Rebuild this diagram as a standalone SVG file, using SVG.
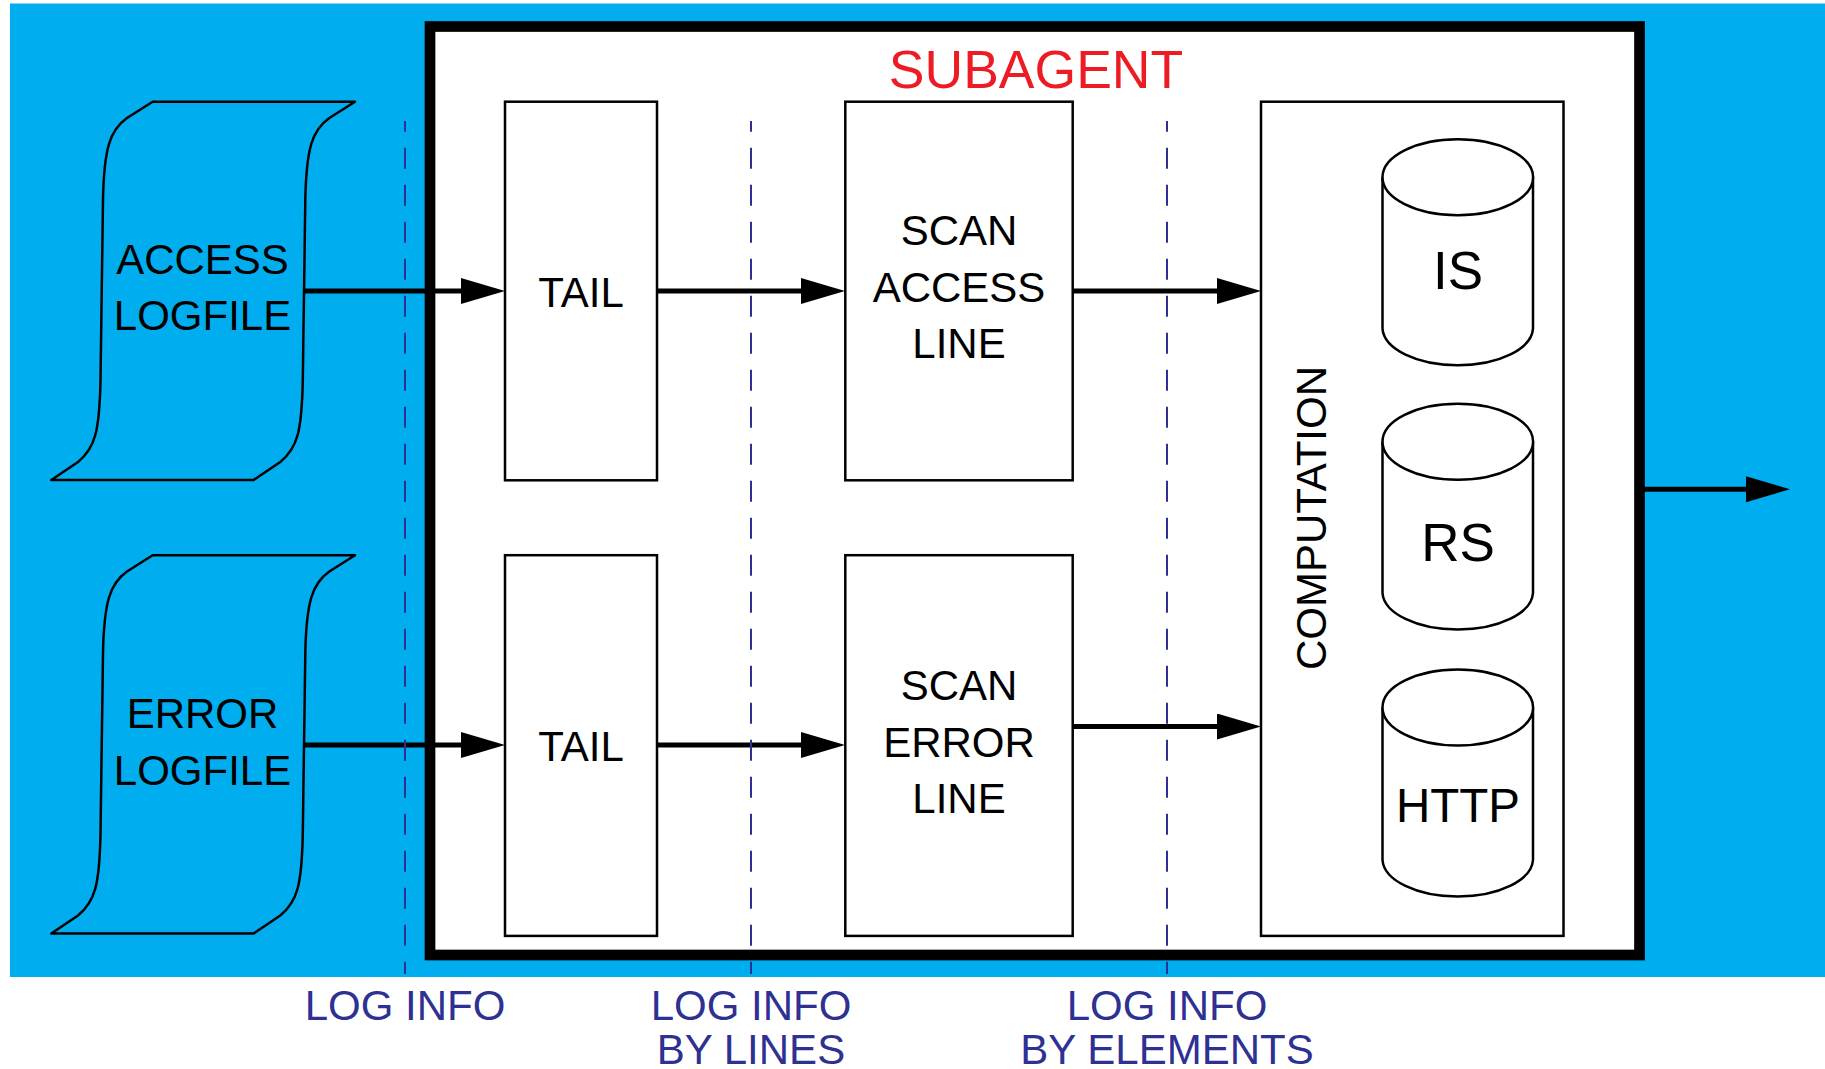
<svg xmlns="http://www.w3.org/2000/svg" width="1825" height="1069" viewBox="0 0 1825 1069">
<defs>
<style>
.t{font-family:"Liberation Sans",Arial,sans-serif;font-size:42px;fill:#000;text-anchor:middle}
.big{font-size:53px}
.lbl{font-family:"Liberation Sans",Arial,sans-serif;font-size:42px;fill:#2E3192;text-anchor:middle}
.box{fill:#fff;stroke:#000;stroke-width:2.5}
.file{fill:#00AEEF;stroke:#000;stroke-width:2.5;stroke-linejoin:round}
.cyl{fill:#fff;stroke:#000;stroke-width:2.5}
.conn{fill:none;stroke:#000;stroke-width:5}
.div{fill:none;stroke:#2E3192;stroke-width:2;stroke-dasharray:21 16;stroke-dashoffset:10.3}
</style>
<marker id="arr" markerUnits="userSpaceOnUse" markerWidth="46" markerHeight="28" refX="14" refY="13" orient="auto">
<path d="M0,0 L44,13 L0,26 Z" fill="#000"/>
</marker>
<path id="filepath" d="M152.7,101.7 L355,101.7 L329.3,118 C312.3,130 306.3,148 305.3,200 L302.8,380 C301.8,432 297.3,448 280.3,462 L253.6,480 L51.3,480 L78,462 C95,448 99.5,432 100.5,380 L103,200 C104,148 110,130 127,118 Z"/>
</defs>
<rect x="0" y="0" width="1825" height="1069" fill="#fff"/>
<rect id="background" x="10" y="3.5" width="1815" height="973.5" fill="#00AEEF"/>
<g id="subagent">
<rect x="430" y="26.5" width="1209.5" height="928.5" fill="#fff" stroke="#000" stroke-width="10.7"/>
<text class="t" x="1036" y="88.3" style="font-size:53.5px;fill:#ED1C24">SUBAGENT</text>
</g>
<g id="access-logfile">
<use href="#filepath" class="file"/>
<text class="t" x="202.5" y="274">ACCESS</text>
<text class="t" x="202.5" y="330">LOGFILE</text>
</g>
<g id="error-logfile">
<use href="#filepath" class="file" transform="translate(0,453.5)"/>
<text class="t" x="202.5" y="727.6">ERROR</text>
<text class="t" x="202.5" y="784.6">LOGFILE</text>
</g>
<g id="tail-access">
<rect class="box" x="505" y="101.7" width="152" height="378.6"/>
<text class="t" x="581" y="307">TAIL</text>
</g>
<g id="tail-error">
<rect class="box" x="505" y="555.2" width="152" height="380.7"/>
<text class="t" x="581" y="761">TAIL</text>
</g>
<g id="scan-access-line">
<rect class="box" x="845.3" y="101.7" width="227.4" height="378.6"/>
<text class="t" x="959" y="245">SCAN</text>
<text class="t" x="959" y="301.7">ACCESS</text>
<text class="t" x="959" y="357.7">LINE</text>
</g>
<g id="scan-error-line">
<rect class="box" x="845.3" y="555.2" width="227.4" height="380.7"/>
<text class="t" x="959" y="699.5">SCAN</text>
<text class="t" x="959" y="756.5">ERROR</text>
<text class="t" x="959" y="812.7">LINE</text>
</g>
<g id="computation">
<rect class="box" x="1261" y="101.7" width="302.5" height="834.2"/>
<text class="t" transform="translate(1325.5,518) rotate(-90)">COMPUTATION</text>
</g>
<g id="db-is">
<path class="cyl" d="M1382.5,177.3 L1382.5,328.7 A75.3,38 0 0 0 1533,328.7 L1533,177.3"/>
<ellipse class="cyl" cx="1457.8" cy="177.3" rx="75.3" ry="38"/>
<text class="t big" x="1458" y="289.3">IS</text>
</g>
<g id="db-rs">
<path class="cyl" d="M1382.5,441.7 L1382.5,593 A75.3,38 0 0 0 1533,593 L1533,441.7"/>
<ellipse class="cyl" cx="1457.8" cy="441.7" rx="75.3" ry="38"/>
<text class="t big" x="1458" y="560.7">RS</text>
</g>
<g id="db-http">
<path class="cyl" d="M1382.5,707.5 L1382.5,860 A75.3,38 0 0 0 1533,860 L1533,707.5"/>
<ellipse class="cyl" cx="1457.8" cy="707.5" rx="75.3" ry="38"/>
<text class="t" x="1458" y="822" style="font-size:47.5px">HTTP</text>
</g>
<g id="connectors">
<path class="conn" d="M303,291 L475,291" marker-end="url(#arr)"/>
<path class="conn" d="M657,291 L815,291" marker-end="url(#arr)"/>
<path class="conn" d="M1073,291 L1231,291" marker-end="url(#arr)"/>
<path class="conn" d="M303,745 L475,745" marker-end="url(#arr)"/>
<path class="conn" d="M657,745 L815,745" marker-end="url(#arr)"/>
<path class="conn" d="M1073,726.5 L1231,726.5" marker-end="url(#arr)"/>
<path class="conn" d="M1644,489.3 L1760,489.3" marker-end="url(#arr)"/>
</g>
<g id="dividers">
<line class="div" x1="405" y1="121" x2="405" y2="974"/>
<line class="div" x1="751" y1="121" x2="751" y2="974"/>
<line class="div" x1="1167" y1="121" x2="1167" y2="974"/>
</g>
<g id="labels">
<text class="lbl" x="405" y="1020">LOG INFO</text>
<text class="lbl" x="751" y="1020.4">LOG INFO</text>
<text class="lbl" x="751" y="1063.6">BY LINES</text>
<text class="lbl" x="1167" y="1020.4">LOG INFO</text>
<text class="lbl" x="1167" y="1063.6">BY ELEMENTS</text>
</g>
</svg>
